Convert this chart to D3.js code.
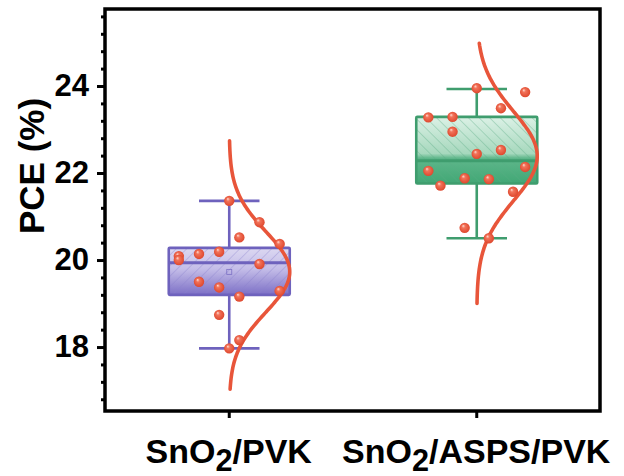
<!DOCTYPE html>
<html>
<head>
<meta charset="utf-8">
<script src="https://cdn.jsdelivr.net/npm/d3@7"></script>
<style>
  html, body { margin: 0; padding: 0; background: #fff; }
  svg { display: block; font-family: Arial, "Liberation Sans", sans-serif; }
</style>
</head>
<body>
<svg id="chart" width="624" height="476"></svg>
<script>
// ---------- data ----------
const categories = ["SnO2/PVK", "SnO2/ASPS/PVK"];
const pvkPCE  = [21.36, 20.87, 20.52, 20.37, 20.09, 20.00, 20.14, 20.19, 19.91, 19.50, 19.37, 19.16, 19.29, 18.74, 18.16, 17.97];
const pvkSlot = [0, 3, 1, 5, -5, -5, -3, -1, 3, -3, -1, 1, 5, -1, 1, 0];
const aspsPCE  = [23.95, 23.86, 23.49, 23.28, 23.29, 22.95, 22.44, 22.53, 22.14, 22.05, 21.88, 21.86, 21.71, 21.57, 20.74, 20.50];
const aspsSlot = [0, 4, 2, -4, -2, -2, 0, 2, 4, -4, -1, 1, -3, 3, -1, 1];
const slotSpread = [6, 5];
const boxQ1       = [19.20, 21.76];
const boxMedian   = [19.94, 22.28];
const boxQ3       = [20.28, 23.29];
const whiskerLow  = [17.97, 20.50];
const whiskerHigh = [21.36, 23.93];
const curveFrom = [17.03, 19.00];
const curveTo   = [22.74, 24.98];
const yTicks = [18, 20, 22, 24];
const yMinorStep = 0.4;
const yDomain = [16.53, 25.77];

const groups = [
  { values: pvkPCE, slots: pvkSlot },
  { values: aspsPCE, slots: aspsSlot }
];

// ---------- layout ----------
const svg = d3.select("#chart");
const L = 105, R = 600, T = 9, B = 411;
const x = d3.scalePoint().domain(categories).range([L, R]).padding(0.5);
const y = d3.scaleLinear().domain(yDomain).range([B, T]);
const boxHalf = 60.5;

const boxColors = [
  { stroke: "#6e62bd", stops: [["0%", "#dcd8f1"], ["45%", "#c4bde8"], ["100%", "#7c6fc6"]], hatch: "#8a7fcb", angle: 45 },
  { stroke: "#3f9d6e", stops: [["0%", "#dcf1e6"], ["55%", "#a6d8bd"], ["62%", "#5fb78b"], ["100%", "#41a775"]], hatch: "#5aa983", angle: -45 }
];

const defs = svg.append("defs");
boxColors.forEach((c, i) => {
  const g = defs.append("linearGradient").attr("id", "grad" + i)
    .attr("x1", 0).attr("y1", 0).attr("x2", 0).attr("y2", 1);
  c.stops.forEach(s => g.append("stop").attr("offset", s[0]).attr("stop-color", s[1]));
  const p = defs.append("pattern").attr("id", "hatch" + i)
    .attr("patternUnits", "userSpaceOnUse").attr("width", 7.5).attr("height", 7.5)
    .attr("patternTransform", `rotate(${c.angle})`);
  p.append("line").attr("x1", 0).attr("y1", 0).attr("x2", 0).attr("y2", 7.5)
    .attr("stroke", c.hatch).attr("stroke-width", 0.9).attr("stroke-opacity", 0.75);
});
const rg = defs.append("radialGradient").attr("id", "ball")
  .attr("cx", "50%").attr("cy", "50%").attr("r", "55%").attr("fx", "35%").attr("fy", "30%");
rg.append("stop").attr("offset", "0%").attr("stop-color", "#ffe0d6");
rg.append("stop").attr("offset", "30%").attr("stop-color", "#f2735a");
rg.append("stop").attr("offset", "100%").attr("stop-color", "#dc4329");

// ---------- boxes ----------
const plot = svg.append("g");
categories.forEach((cat, i) => {
  const cx = x(cat) + 0.5;
  const c = boxColors[i];
  const g = plot.append("g");
  // whisker
  g.append("line").attr("x1", cx).attr("x2", cx).attr("y1", y(whiskerHigh[i])).attr("y2", y(boxQ3[i]))
    .attr("stroke", c.stroke).attr("stroke-width", 2.6);
  g.append("line").attr("x1", cx).attr("x2", cx).attr("y1", y(boxQ1[i])).attr("y2", y(whiskerLow[i]))
    .attr("stroke", c.stroke).attr("stroke-width", 2.6);
  [whiskerHigh[i], whiskerLow[i]].forEach(v => {
    g.append("line").attr("x1", cx - boxHalf / 2).attr("x2", cx + boxHalf / 2)
      .attr("y1", y(v)).attr("y2", y(v)).attr("stroke", c.stroke).attr("stroke-width", 2.6);
  });
  // box
  const bx = cx - boxHalf, bw = boxHalf * 2, by = y(boxQ3[i]), bh = y(boxQ1[i]) - y(boxQ3[i]);
  g.append("rect").attr("x", bx).attr("y", by).attr("width", bw).attr("height", bh).attr("fill", `url(#grad${i})`);
  g.append("rect").attr("x", bx).attr("y", by).attr("width", bw).attr("height", bh).attr("fill", `url(#hatch${i})`);
  g.append("rect").attr("x", bx).attr("y", by).attr("width", bw).attr("height", bh)
    .attr("fill", "none").attr("stroke", c.stroke).attr("stroke-width", 2.6).attr("rx", 1);
  g.append("line").attr("x1", bx).attr("x2", bx + bw).attr("y1", y(boxMedian[i])).attr("y2", y(boxMedian[i]))
    .attr("stroke", c.stroke).attr("stroke-width", 3);
  // mean marker
  const m = d3.mean(groups[i].values);
  g.append("rect").attr("x", cx - 2.5).attr("y", y(m) - 2.5).attr("width", 5).attr("height", 5)
    .attr("fill", "none").attr("stroke", c.stroke).attr("stroke-width", 0.8).attr("stroke-opacity", 0.8);
});

// ---------- normal curves ----------
categories.forEach((cat, i) => {
  const cx = x(cat) + 0.5;
  const vals = groups[i].values;
  const mu = d3.mean(vals), sd = d3.deviation(vals);
  const n = 120;
  const pts = d3.range(n + 1).map(k => curveFrom[i] + (curveTo[i] - curveFrom[i]) * k / n);
  const line = d3.line()
    .x(v => cx + boxHalf * Math.exp(-((v - mu) ** 2) / (2 * sd * sd)))
    .y(v => y(v))
    .curve(d3.curveBasis);
  plot.append("path").datum(pts).attr("d", line)
    .attr("fill", "none").attr("stroke", "#e8553a").attr("stroke-width", 3.6).attr("stroke-linecap", "round");
});

// ---------- points ----------
categories.forEach((cat, i) => {
  const cx = x(cat) + 0.5;
  const grp = groups[i];
  const unit = boxHalf / slotSpread[i];
  plot.append("g").selectAll("circle").data(grp.values).join("circle")
    .attr("cx", (d, k) => cx + grp.slots[k] * unit)
    .attr("cy", d => y(d))
    .attr("r", 5.2)
    .attr("fill", "url(#ball)");
});

// ---------- axes ----------
const yMinor = d3.range(Math.ceil(yDomain[0] / yMinorStep) * yMinorStep, yDomain[1], yMinorStep)
  .filter(v => !yTicks.some(t => Math.abs(t - v) < 1e-6));
const ay = svg.append("g").attr("transform", `translate(${L},0)`);
ay.call(d3.axisLeft(y).tickValues(yMinor).tickSize(4).tickFormat(""));
ay.call(g => g.select(".domain").remove());
const ayMajor = svg.append("g").attr("transform", `translate(${L},0)`)
  .call(d3.axisLeft(y).tickValues(yTicks).tickSize(8).tickPadding(8).tickFormat(d3.format("d")));
ayMajor.select(".domain").remove();
svg.selectAll(".tick line").attr("stroke", "#000").attr("stroke-width", 3);
ayMajor.selectAll(".tick text")
  .attr("font-size", 31).attr("font-weight", "bold").attr("fill", "#000")
  .attr("font-family", "Arial, 'Liberation Sans', sans-serif");

const ax = svg.append("g").attr("transform", `translate(0,${B})`)
  .call(d3.axisBottom(x).tickSize(7).tickFormat(""));
ax.select(".domain").remove();
ax.selectAll(".tick line").attr("stroke", "#000").attr("stroke-width", 3);

// frame
svg.append("rect").attr("x", L).attr("y", T).attr("width", R - L).attr("height", B - T)
  .attr("fill", "none").attr("stroke", "#000").attr("stroke-width", 3.5);

// category labels with subscript
const labels = svg.append("g").selectAll("text").data(categories).join("text")
  .attr("x", d => x(d))
  .attr("y", 463)
  .attr("text-anchor", "middle")
  .attr("font-size", 34).attr("font-weight", "bold").attr("fill", "#000");
labels.each(function(d) {
  const t = d3.select(this);
  const idx = d.indexOf("2");
  t.append("tspan").text(d.slice(0, idx));
  t.append("tspan").text("2").attr("font-size", "0.9em").attr("dy", 8);
  t.append("tspan").text(d.slice(idx + 1)).attr("dy", -8);
});

// y title
svg.append("text")
  .attr("transform", "translate(32,166) rotate(-90)")
  .attr("text-anchor", "middle").attr("dy", "0.35em")
  .attr("font-size", 35).attr("font-weight", "bold").attr("fill", "#000")
  .text("PCE (%)");
</script>
</body>
</html>
